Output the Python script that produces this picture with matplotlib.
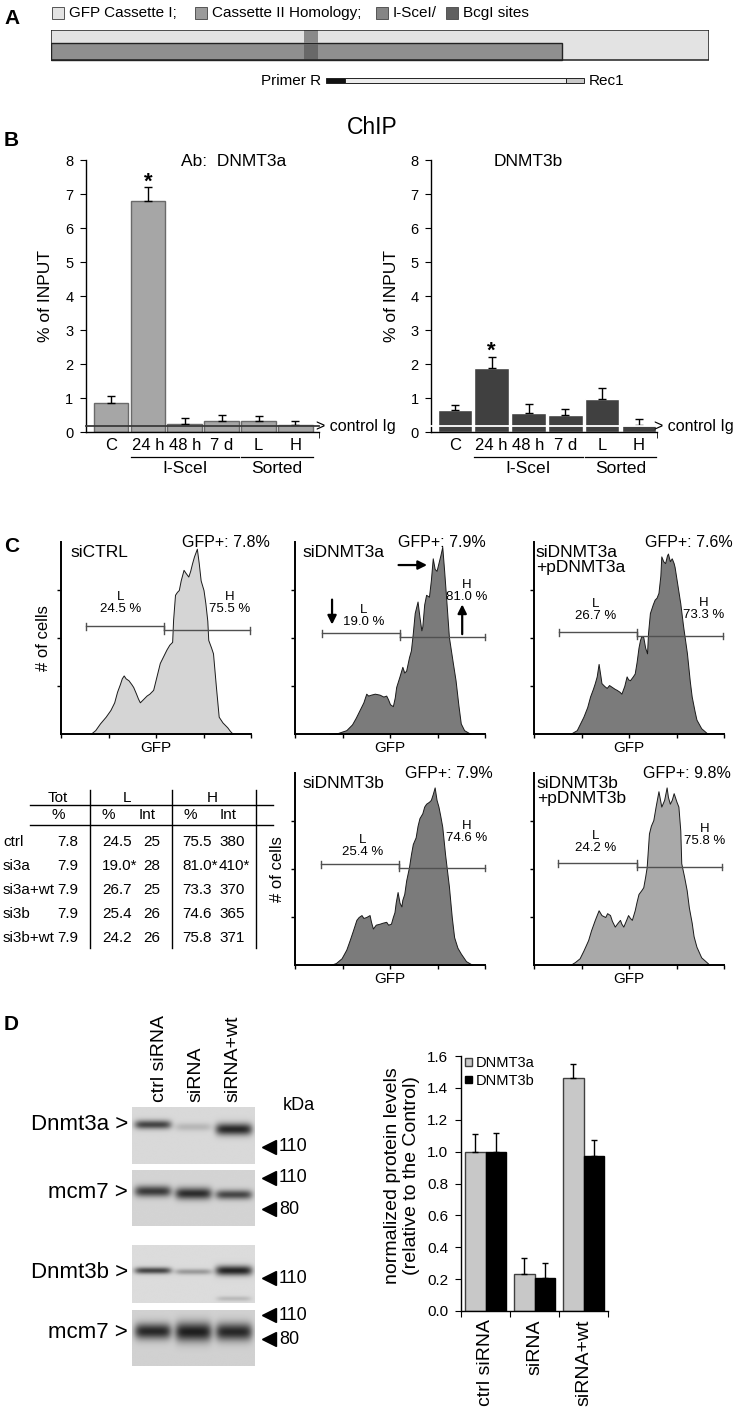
import numpy as np
import matplotlib
matplotlib.use('Agg')
import matplotlib.pyplot as plt
from matplotlib.patches import Rectangle, Patch
import matplotlib.transforms as mtransforms

plt.rcParams['font.family'] = ['Liberation Sans', 'DejaVu Sans']
plt.rcParams['axes.linewidth'] = 1.0

# ======================= DATA =======================
# Panel A (schematic, lengths in % of cassette)
a_legend_labels = ['GFP Cassette I;', 'Cassette II Homology;', 'I-SceI/', 'BcgI sites']
a_legend_colors = ['#e3e3e3', '#9b9b9b', '#858585', '#5f5f5f']
cassette_len = 100.0
homology_end = 77.7
site_span = (38.4, 40.6)
primer_segments = [(41.8, 44.7), (44.7, 78.3), (78.3, 81.0)]
primer_colors = ['#111111', '#ececec', '#c8c8c8']

# Panel B (ChIP, % of input)
chip_cats = ['C', '24 h', '48 h', '7 d', 'L', 'H']
dnmt3a_chip = [0.85, 6.80, 0.25, 0.33, 0.33, 0.20]
dnmt3a_chip_err = [0.20, 0.40, 0.15, 0.17, 0.15, 0.12]
dnmt3b_chip = [0.65, 1.87, 0.57, 0.50, 0.98, 0.20]
dnmt3b_chip_err = [0.15, 0.35, 0.25, 0.18, 0.32, 0.18]
control_ig = 0.17
chip_groups = [('I-SceI', 1, 3), ('Sorted', 4, 5)]
chip_sig_idx = 1

# Panel C (GFP histograms: GFP channel, number of cells)
siCTRL_gfp = [31, 36, 41, 47, 52, 56, 59, 62, 64, 66, 68, 71, 74, 76, 79, 81, 83, 86, 88, 90, 93, 97, 100,
              104, 107, 111, 114, 117, 118, 120, 122, 124, 126, 129, 131, 134, 136, 138, 140, 143, 145, 147,
              150, 152, 154, 155, 158, 160, 163, 166, 170, 175, 178, 181]
siCTRL_cnt = [0, 4, 11, 18, 25, 33, 44, 52, 58, 61, 58, 56, 52, 49, 42, 37, 33, 36, 38, 40, 42, 46, 58,
              74, 80, 88, 93, 96, 119, 145, 148, 150, 160, 171, 168, 164, 170, 178, 185, 193, 178, 160,
              150, 136, 118, 98, 90, 84, 50, 18, 12, 7, 3, 0]
si3a_gfp = [36, 45, 54, 60, 64, 68, 72, 75, 77, 80, 84, 89, 93, 96, 98, 100, 103, 105, 106.5, 110, 113,
            115, 117, 120, 122, 124, 126, 129, 131, 133, 134, 136, 138, 141, 143, 145, 147, 149, 151, 153,
            155, 157, 159, 162, 166, 169, 172, 174.5, 178, 185]
si3a_cnt = [0, 1, 4, 10, 17, 25, 33, 42, 40, 41, 42, 41, 39, 40, 36, 31, 29, 38, 49, 60, 70,
            64, 66, 80, 87, 105, 126, 138, 122, 108, 112, 135, 145, 143, 160, 183, 172, 170, 178, 186,
            195, 170, 143, 101, 75, 56, 30, 11, 4, 0]
si3a_wt_gfp = [38, 45, 52, 56, 59, 62, 64, 66, 68, 70, 71, 74, 76.5, 79, 82, 85, 87, 90, 92, 95, 97.5,
               99, 101, 104, 106, 108, 110, 111.6, 113, 115, 117, 119, 120, 122, 125, 127, 129, 131, 133,
               134, 136, 138, 140, 141, 143, 145, 147, 148, 151, 154, 157, 161, 164, 166, 169, 171, 176, 183]
si3a_wt_cnt = [0, 4, 18, 28, 39, 47, 53, 60, 73, 60, 53, 50, 48, 51, 49, 47, 46, 44, 42, 50, 60,
               57, 56, 60, 63, 75, 90, 98, 102, 101, 90, 84, 105, 126, 135, 140, 142, 147, 165,
               185, 180, 178, 186, 188, 180, 183, 178, 174, 155, 136, 112, 84, 55, 39, 24, 15, 6, 0]
si3b_gfp = [37, 43, 49, 54, 57.6, 61, 64.6, 67, 70, 72, 75, 78.5, 80, 82, 85, 89, 92, 96, 98, 101, 103,
            104.7, 106, 108, 110, 112, 113, 115, 117, 120, 122, 124, 127, 129, 131, 134, 136, 138, 141,
            143, 145, 147, 149, 151, 153, 155, 158, 162, 165, 167.5, 171, 174.5, 180, 187]
si3b_cnt = [0, 2, 7, 16, 26, 36, 47, 50, 52, 49, 50, 52, 45, 38, 42, 43, 44, 45, 42, 43, 50,
            55, 65, 76, 65, 61, 68, 74, 88, 102, 115, 126, 133, 145, 153, 158, 165, 168, 170,
            172, 178, 185, 172, 165, 155, 144, 115, 82, 50, 29, 18, 12, 4, 0]
si3b_wt_gfp = [38, 43, 48, 52, 57, 60, 64, 66, 68, 71, 75, 77, 80, 82, 85, 88, 90.5, 92, 94, 97, 99,
               101, 103, 106, 108, 110, 113, 115, 117, 118.6, 121, 123, 125.6, 128, 131, 134, 137, 139.6,
               141, 143, 145, 147, 150, 152, 154, 155, 158, 160.7, 163, 166, 168, 171, 176, 185]
si3b_wt_cnt = [0, 3, 7, 15, 26, 36, 47, 52, 57, 52, 50, 54, 52, 46, 40, 44, 47, 43, 40, 47, 52,
               49, 47, 57, 66, 74, 78, 81, 92, 102, 137, 145, 151, 165, 181, 165, 172, 185,
               175, 168, 172, 179, 170, 165, 140, 106, 92, 78, 60, 44, 30, 19, 8, 0]

hist_titles = [['siCTRL'], ['siDNMT3a'], ['siDNMT3a', '+pDNMT3a'], ['siDNMT3b'], ['siDNMT3b', '+pDNMT3b']]
hist_gfp_pos = ['GFP+: 7.8%', 'GFP+: 7.9%', 'GFP+: 7.6%', 'GFP+: 7.9%', 'GFP+: 9.8%']
hist_L_pct = ['24.5 %', '19.0 %', '26.7 %', '25.4 %', '24.2 %']
hist_H_pct = ['75.5 %', '81.0 %', '73.3 %', '74.6 %', '75.8 %']
hist_gates = [  # (L start, L end/H start, H end) in GFP channel units
    (26, 108, 199), (28, 110, 200), (26, 108, 199), (27, 109, 200), (25, 108, 198)]

# Table
table_rows = ['ctrl', 'si3a', 'si3a+wt', 'si3b', 'si3b+wt']
table_tot = ['7.8', '7.9', '7.9', '7.9', '7.9']
table_L_pct = ['24.5', '19.0*', '26.7', '25.4', '24.2']
table_L_int = ['25', '28', '25', '26', '26']
table_H_pct = ['75.5', '81.0*', '73.3', '74.6', '75.8']
table_H_int = ['380', '410*', '370', '365', '371']

# Panel D western blots (relative band intensities per lane)
blot_lanes = ['ctrl siRNA', 'siRNA', 'siRNA+wt']
blot_names = ['Dnmt3a >', 'mcm7 >', 'Dnmt3b >', 'mcm7 >']
blot_band_intensity = [[0.80, 0.18, 0.95], [0.85, 0.92, 0.78], [0.80, 0.35, 0.97], [0.95, 1.00, 0.95]]
blot_markers = [[('110', 0.70)], [('110', 0.14), ('80', 0.70)], [('110', 0.57)], [('110', 0.09), ('80', 0.52)]]

# Panel D quantification
d_groups = ['ctrl siRNA', 'siRNA', 'siRNA+wt']
d_dnmt3a = [1.00, 0.23, 1.46]
d_dnmt3a_err = [0.11, 0.10, 0.09]
d_dnmt3b = [1.00, 0.21, 0.97]
d_dnmt3b_err = [0.12, 0.09, 0.10]

# ======================= FIGURE =======================
W, H = 742, 1409
fig = plt.figure(figsize=(W / 100, H / 100), dpi=100)
fig.patch.set_facecolor('white')


def px_rect(x0, y0, x1, y1):
    return [x0 / W, 1 - y1 / H, (x1 - x0) / W, (y1 - y0) / H]


ov = fig.add_axes([0, 0, 1, 1], zorder=20)
ov.set_xlim(0, W)
ov.set_ylim(H, 0)
ov.axis('off')


def T(x, y, s, size, **kw):
    kw.setdefault('va', 'center')
    return ov.text(x, y, s, fontsize=size, **kw)


for lab, y in zip('ABCD', [19, 140, 546, 1025]):
    T(4, y, lab, 15, fontweight='bold', ha='left')

# ---------------- Panel A ----------------
for xs, lab, col in zip([52, 195, 376, 446], a_legend_labels, a_legend_colors):
    ov.add_patch(Rectangle((xs, 7), 12, 12, fc=col, ec='#555', lw=0.7))
    T(xs + 17, 13, lab, 11, ha='left')

axA = fig.add_axes(px_rect(51, 30, 709, 86))
axA.set_xlim(0, cassette_len)
axA.set_ylim(56, 0)
axA.axis('off')
axA.add_patch(Rectangle((0, 0), cassette_len, 30, fc='#e3e3e3', ec='none'))
axA.add_patch(Rectangle((0, 13), homology_end, 17, fc='#8f8f8f', ec='#222', lw=1))
axA.add_patch(Rectangle((site_span[0], 0), site_span[1] - site_span[0], 13, fc='#8a8a8a', ec='none'))
axA.add_patch(Rectangle((site_span[0], 13.5), site_span[1] - site_span[0], 16, fc='#686868', ec='none'))
axA.add_patch(Rectangle((0, 0), cassette_len, 30, fc='none', ec='#222', lw=1.1))
for (s, e), c in zip(primer_segments, primer_colors):
    axA.add_patch(Rectangle((s, 48), e - s, 5, fc=c, ec='#222', lw=0.7))
T(321, 81, 'Primer R', 11, ha='right')
T(589, 81, 'Rec1', 11, ha='left')

# ---------------- Panel B ----------------
T(372, 127, 'ChIP', 16.5, ha='center')


def chip_axes(rect, vals, errs, fc, ec, xlim, line_color, ylabel_x, title, title_x):
    ax = fig.add_axes(px_rect(*rect))
    x = np.arange(len(chip_cats))
    ax.bar(x, vals, width=0.94, color=fc, edgecolor=ec, linewidth=1.0, zorder=2)
    ax.errorbar(x, vals, yerr=[np.zeros(len(vals)), errs], fmt='none', ecolor='black',
                elinewidth=1, capsize=3, capthick=1, zorder=3)
    ax.set_xlim(*xlim)
    ax.set_ylim(0, 8)
    for s in ['top', 'right']:
        ax.spines[s].set_visible(False)
    ax.set_yticks(range(0, 9))
    ax.tick_params(axis='y', direction='out', length=4, labelsize=10.5, pad=5)
    ax.set_xticks(x)
    ax.set_xticklabels(chip_cats, fontsize=12)
    ax.tick_params(axis='x', which='major', length=0, pad=4)
    ax.set_xticks([xlim[1]], minor=True)
    ax.tick_params(axis='x', which='minor', length=4, direction='out')
    ax.plot(xlim, [control_ig, control_ig], color=line_color, lw=1.3, zorder=4, clip_on=False)
    ax.text(xlim[1] - 0.08, control_ig, '> control Ig', fontsize=11.5, ha='left', va='center')
    tr = mtransforms.blended_transform_factory(ax.transData, ax.transAxes)
    for name, a, b in chip_groups:
        ax.plot([a - 0.47, b + 0.47], [-0.092, -0.092], color='black', lw=0.9,
                transform=tr, clip_on=False)
        ax.text((a + b) / 2, -0.134, name, transform=tr, ha='center', va='center', fontsize=12.5)
    i = chip_sig_idx
    ax.text(i, vals[i] + errs[i] + 0.15, '*', ha='center', va='center', fontsize=16, fontweight='bold')
    T(ylabel_x, 296, '% of INPUT', 12.5, ha='center', rotation=90)
    T(title_x, 162, title, 12.5, ha='left')
    return ax


chip_axes((86, 160, 319, 432), dnmt3a_chip, dnmt3a_chip_err, '#a6a6a6', '#6a6a6a',
          (-0.68, 5.64), '#3a3a3a', 45, 'Ab:  DNMT3a', 181)
chip_axes((431, 160, 657, 432), dnmt3b_chip, dnmt3b_chip_err, '#404040', 'white',
          (-0.65, 5.49), 'white', 391, 'DNMT3b', 494)

# ---------------- Panel C ----------------
hist_data = [(siCTRL_gfp, siCTRL_cnt), (si3a_gfp, si3a_cnt), (si3a_wt_gfp, si3a_wt_cnt),
             (si3b_gfp, si3b_cnt), (si3b_wt_gfp, si3b_wt_cnt)]
hist_pos = [(61, 734), (295, 734), (534, 734), (295, 965), (534, 965)]
hist_colors = ['#d5d5d5', '#7b7b7b', '#7b7b7b', '#7b7b7b', '#a9a9a9']
title_x = [10.5, 8.4, 2, 8.4, 3]
gfp_text_x = [127, 108, 117, 116, 115]
gate_y = [(112, 108), (105, 101), (106, 102), (105, 101), (106, 102)]
L_lab = [(63, 143), (72, 129), (65, 135), (71, 130), (65, 134)]
H_lab = [(178, 143), (181, 155), (179, 136), (181, 145), (180, 142)]

hist_axes = []
for k in range(5):
    x0, base = hist_pos[k]
    ax = fig.add_axes(px_rect(x0, base - 192, x0 + 190, base))
    hist_axes.append(ax)
    g, c = hist_data[k]
    ax.fill_between(g, c, 0, facecolor=hist_colors[k], edgecolor='#1a1a1a', linewidth=0.7, zorder=2)
    ax.set_xlim(0, 200)
    ax.set_ylim(0, 200)
    for s in ['top', 'right']:
        ax.spines[s].set_visible(False)
    ax.spines['left'].set_linewidth(1.4)
    ax.spines['bottom'].set_linewidth(1.4)
    ax.set_xticks([0, 50, 100, 150, 200])
    ax.set_yticks([50, 100, 150])
    ax.tick_params(labelbottom=False, labelleft=False, direction='out', length=3, width=1)
    ax.text(0.5, -0.075, 'GFP', transform=ax.transAxes, ha='center', va='center', fontsize=11)
    for j, line in enumerate(hist_titles[k]):
        ax.text(title_x[k], 189 - 15.6 * j, line, ha='left', va='center', fontsize=12.5)
    ax.text(gfp_text_x[k], 199, hist_gfp_pos[k], ha='left', va='center', fontsize=11.5, clip_on=False)
    a, m, b = hist_gates[k]
    yl, yh = gate_y[k]
    gc = '#505050'
    ax.plot([a, m], [yl, yl], color=gc, lw=1, zorder=3, clip_on=False)
    ax.plot([m, b], [yh, yh], color=gc, lw=1, zorder=3, clip_on=False)
    for xx, yy in [(a, yl), (m, yl), (m, yh), (b, yh)]:
        ax.plot([xx, xx], [yy - 3.5, yy + 3.5], color=gc, lw=1, zorder=3, clip_on=False)
    lx, ly = L_lab[k]
    ax.text(lx, ly, 'L', ha='center', va='center', fontsize=9.5)
    ax.text(lx, ly - 12.5, hist_L_pct[k], ha='center', va='center', fontsize=9.5)
    hx, hy = H_lab[k]
    ax.text(hx, hy, 'H', ha='center', va='center', fontsize=9.5, clip_on=False)
    ax.text(hx, hy - 12.5, hist_H_pct[k], ha='center', va='center', fontsize=9.5, clip_on=False)
    if k in (0, 3):
        ax.text(-0.092, 0.5, '# of cells', rotation=90, transform=ax.transAxes,
                ha='center', va='center', fontsize=12)

# arrows on siDNMT3a
axh = hist_axes[1]
ap = dict(arrowstyle='-|>', color='black', lw=1.6, mutation_scale=13, shrinkA=0, shrinkB=0)
axh.annotate('', xy=(139, 176), xytext=(109, 176), arrowprops=ap)
axh.annotate('', xy=(39, 114), xytext=(39, 140), arrowprops=ap)
axh.annotate('', xy=(176, 135), xytext=(176, 104), arrowprops=ap)

# Table
T(58, 798, 'Tot', 11, ha='center')
T(127, 798, 'L', 11, ha='center')
T(212, 798, 'H', 11, ha='center')
for xx, s in [(58, '%'), (108, '%'), (147, 'Int'), (190, '%'), (228, 'Int')]:
    T(xx, 815, s, 11, ha='center')
ov.plot([30, 273], [805, 805], color='black', lw=1)
ov.plot([30, 273], [825, 825], color='black', lw=1)
for xx in [90, 172, 256]:
    ov.plot([xx, xx], [790, 948], color='black', lw=1)
row_y = [842, 866, 890, 914, 938]
for i, y in enumerate(row_y):
    T(3, y, table_rows[i], 11, ha='left')
    T(78, y, table_tot[i], 11, ha='right')
    T(102, y, table_L_pct[i], 11, ha='left')
    T(143, y, table_L_int[i], 11, ha='left')
    T(182, y, table_H_pct[i], 11, ha='left')
    T(219, y, table_H_int[i], 11, ha='left')

# ---------------- Panel D: blots ----------------
blot_rects = [(132, 1107, 255, 1164), (132, 1170, 255, 1226), (132, 1245, 255, 1303), (132, 1310, 255, 1366)]
blot_bg = [0.85, 0.83, 0.86, 0.82]
blot_band_y = [[0.32, 0.36, 0.40], [0.39, 0.43, 0.45], [0.45, 0.47, 0.45], [0.39, 0.40, 0.40]]
blot_band_sd = [[0.055, 0.05, 0.075], [0.07, 0.075, 0.06], [0.04, 0.035, 0.06], [0.10, 0.12, 0.11]]
lane_c = [0.17, 0.50, 0.83]
name_y = [1125, 1193, 1272, 1332]
for b in range(4):
    x0, y0, x1, y1 = blot_rects[b]
    axb = fig.add_axes(px_rect(x0, y0, x1, y1))
    ny, nx = 120, 250
    yy = np.linspace(0, 1, ny)[:, None]
    xx = np.linspace(0, 1, nx)[None, :]
    dark = np.zeros((ny, nx))
    for li in range(3):
        px = np.exp(-((xx - lane_c[li]) / 0.15) ** 6)
        py = np.exp(-0.5 * ((yy - blot_band_y[b][li]) / blot_band_sd[b][li]) ** 2)
        dark += blot_band_intensity[b][li] * px * py
    if b == 2:
        px = np.exp(-((xx - lane_c[2]) / 0.14) ** 6)
        dark += 0.18 * px * np.exp(-0.5 * ((yy - 0.93) / 0.03) ** 2)
    img = blot_bg[b] - np.clip(dark, 0, 1) * (blot_bg[b] - 0.12)
    axb.imshow(img, cmap='gray', vmin=0, vmax=1, aspect='auto', interpolation='bilinear')
    axb.axis('off')
    T(128, name_y[b], blot_names[b], 16, ha='right')
    for lab, fy in blot_markers[b]:
        yp = y0 + fy * (y1 - y0)
        ov.plot([269], [yp], marker='<', ms=10, color='black')
        T(279, yp, lab, 13, ha='left')
T(283, 1105, 'kDa', 13, ha='left')
for xc, lab in zip([159, 196, 233], blot_lanes):
    T(xc, 1102, lab, 14, ha='center', va='bottom', rotation=90)

# ---------------- Panel D: quantification ----------------
axD = fig.add_axes(px_rect(461, 1056, 608, 1311))
xg = np.arange(len(d_groups))
z = np.zeros(len(d_groups))
axD.bar(xg - 0.21, d_dnmt3a, 0.42, color='#c8c8c8', edgecolor='#404040', linewidth=1, zorder=2)
axD.bar(xg + 0.21, d_dnmt3b, 0.42, color='black', edgecolor='black', linewidth=1, zorder=2)
axD.errorbar(xg - 0.21, d_dnmt3a, yerr=[z, d_dnmt3a_err], fmt='none', ecolor='black',
             elinewidth=1, capsize=2.5, capthick=1, zorder=3)
axD.errorbar(xg + 0.21, d_dnmt3b, yerr=[z, d_dnmt3b_err], fmt='none', ecolor='black',
             elinewidth=1, capsize=2.5, capthick=1, zorder=3)
axD.set_xlim(-0.5, 2.5)
axD.set_ylim(0, 1.6)
for s in ['top', 'right']:
    axD.spines[s].set_visible(False)
yt = np.arange(0, 1.61, 0.2)
axD.set_yticks(yt)
axD.set_yticklabels(['%.1f' % v for v in yt], fontsize=11)
axD.tick_params(axis='y', direction='out', length=4, pad=5)
axD.set_xticks([-0.5, 0.5, 1.5, 2.5])
axD.set_xticklabels([])
axD.tick_params(axis='x', which='major', direction='out', length=4)
axD.set_xticks(xg, minor=True)
axD.set_xticklabels(d_groups, minor=True, rotation=90, fontsize=14)
axD.tick_params(axis='x', which='minor', length=0, pad=6)
axD.legend(handles=[Patch(fc='#c8c8c8', ec='#404040', label='DNMT3a'),
                    Patch(fc='black', ec='black', label='DNMT3b')],
           loc='upper left', bbox_to_anchor=(0.03, 1.0), frameon=False, fontsize=10.5,
           handlelength=0.45, handleheight=0.45, handletextpad=0.25, labelspacing=0.25,
           borderpad=0, borderaxespad=0)
T(392.5, 1176, 'normalized protein levels', 14, ha='center', rotation=90)
T(411, 1176, '(relative to the Control)', 14, ha='center', rotation=90)

fig.savefig('out.png', dpi=100)
